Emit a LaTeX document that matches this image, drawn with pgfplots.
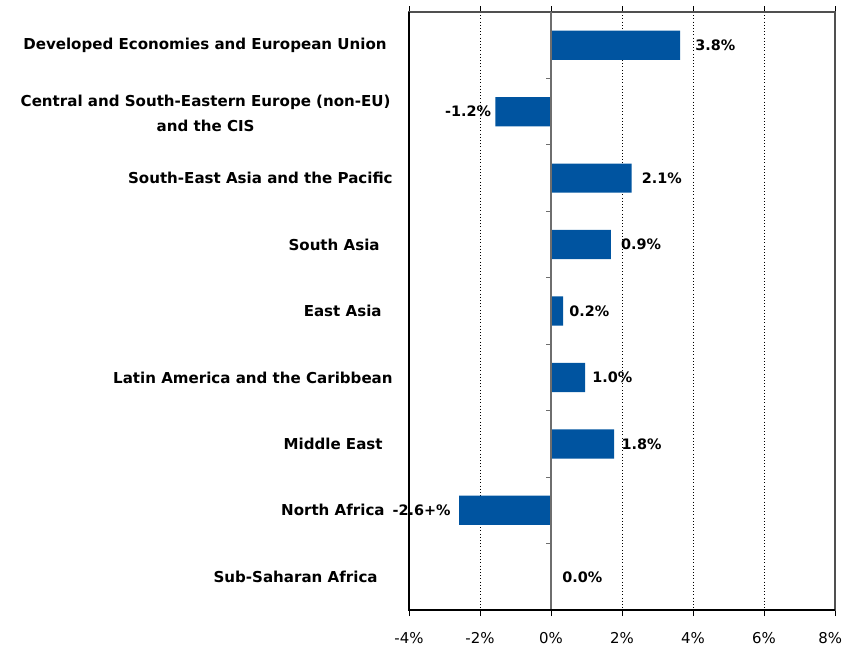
\documentclass[border=0pt]{standalone}
\usepackage{pgfplots}
\pgfplotsset{compat=1.18}
\usepackage{pgfplotstable}
\usepackage{fontspec}
\setmainfont{DejaVu Sans}
\definecolor{barblue}{HTML}{0054A0}
\definecolor{frame}{HTML}{505050}
\definecolor{zeroline}{HTML}{6E6E6E}
% bar values (category index, value in %)
\pgfplotstableread{
y x
0 3.64
1 -1.57
2 2.27
3 1.69
4 0.34
5 0.96
6 1.78
7 -2.59
8 0.0
}\bars
% labels right of positive bars
\pgfplotstableread[col sep=comma]{
y,lx,lbl
0,4.06,3.8\%
2,2.55,2.1\%
3,1.97,0.9\%
4,0.51,0.2\%
5,1.16,1.0\%
6,1.98,1.8\%
8,0.31,0.0\%
}\poslabels
% labels left of negative bars
\pgfplotstableread[col sep=comma]{
y,lx,lbl
1,-1.68,-1.2\%
7,-2.82,-2.6+\%
}\neglabels
\begin{document}
\fontsize{10pt}{12pt}\selectfont
\begin{tikzpicture}
\path[use as bounding box] (-306.75pt,-26.25pt) rectangle (325.5pt,457.5pt);
\begin{axis}[
  at={(0,0)}, anchor=south west,
  scale only axis, width=319.5pt, height=448.5pt,
  xmin=-4, xmax=8, ymin=-0.5, ymax=8.5, y dir=reverse,
  xtick={-4,-2,...,8},
  xticklabel={\ifnum\ticknum=6 \kern-7pt\fi\pgfmathprintnumber{\tick}\%},
  /pgf/number format/assume math mode=true,
  xticklabel style={font=\fontsize{11.2pt}{13pt}\selectfont, yshift=-8.5pt},
  ytick={0,...,8},
  yticklabels={
    Developed Economies and European Union\kern4.5pt,
    {\raisebox{-3pt}[\height][\depth]{\begin{tabular}{@{}c@{}}Central and South-Eastern Europe (non-EU)\\[5.5pt] and the CIS\end{tabular}}\kern1.5pt},
    South-East Asia and the Pacific,
    South Asia\kern9.75pt,
    East Asia\kern8.25pt,
    Latin America and the Caribbean,
    Middle East\kern7.5pt,
    North Africa\kern6pt,
    Sub-Saharan Africa\kern11.25pt},
  yticklabel style={font=\fontsize{11.3pt}{13.5pt}\selectfont\bfseries, xshift=-4.25pt},
  ytick style={draw=none},
  tick align=outside,
  major tick length=4.5pt,
  xtick style={black, line width=0.6pt},
  xmajorgrids,
  grid style={black, dotted, line width=0.5pt},
  axis line style={frame, line width=1.1pt},
  clip=false,
]
\addplot[xbar, bar width=0.44, bar shift=0pt, fill=barblue, draw=none] table[x=x, y=y] {\bars};
\addplot[only marks, mark=none, nodes near coords, point meta=explicit symbolic,
  nodes near coords style={font=\fontsize{10.8pt}{13pt}\selectfont\bfseries, anchor=west, inner sep=0pt, black}]
  table[x=lx, y=y, meta=lbl] {\poslabels};
\addplot[only marks, mark=none, nodes near coords, point meta=explicit symbolic,
  nodes near coords style={font=\fontsize{10.8pt}{13pt}\selectfont\bfseries, anchor=east, inner sep=0pt, black}]
  table[x=lx, y=y, meta=lbl] {\neglabels};
\draw[zeroline, line width=0.8pt] (axis cs:0,-0.5) -- (axis cs:0,8.5);
\pgfplotsinvokeforeach{0.5,1.5,...,7.5}{
  \draw[zeroline, line width=0.8pt] (axis cs:0,#1) -- ++(-4pt,0pt);
}
\draw[black, line width=0.8pt] (rel axis cs:0,1) -- (rel axis cs:0,0) -- (rel axis cs:1,0);
\end{axis}
\end{tikzpicture}
\end{document}
